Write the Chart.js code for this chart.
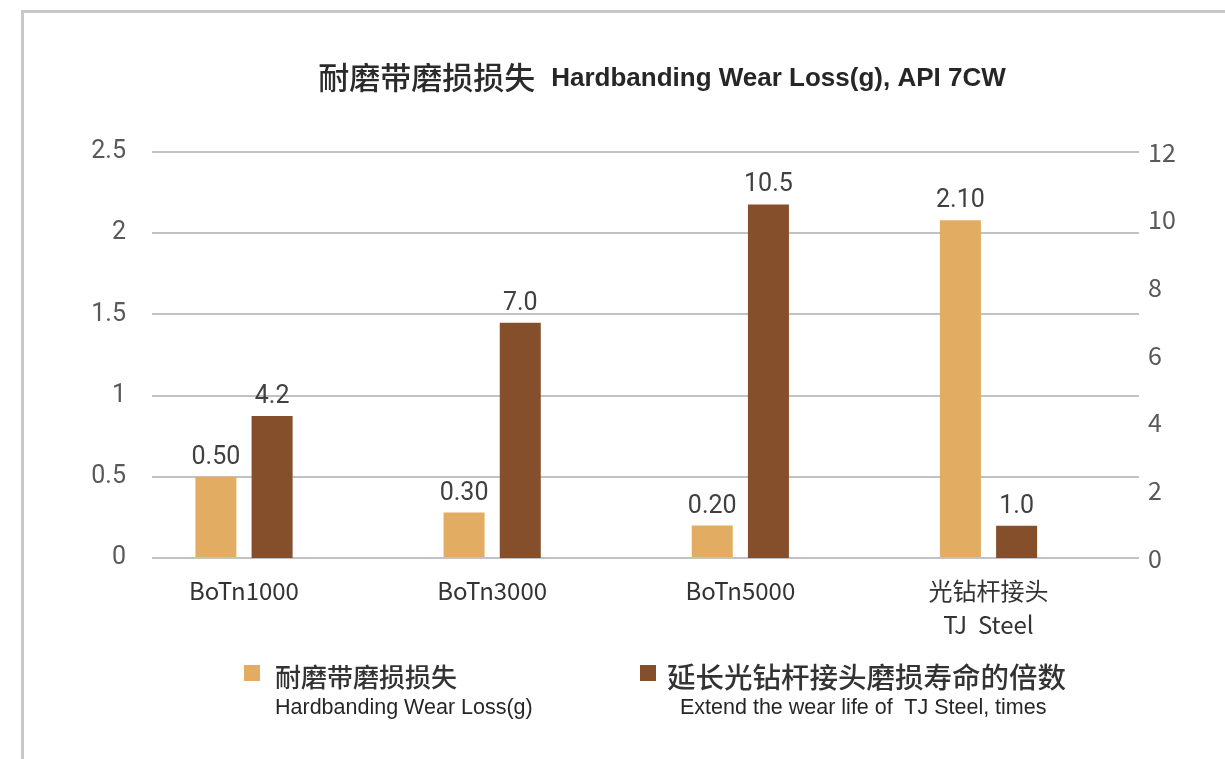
<!DOCTYPE html>
<html>
<head>
<meta charset="utf-8">
<script src="https://cdn.jsdelivr.net/npm/chart.js@4.4.1/dist/chart.umd.min.js"></script>
<style>
body { margin:0; background:#fff; overflow:hidden; }
#wrap { position:relative; width:1225px; height:759px; overflow:hidden; }
#frame { position:absolute; left:21px; top:10px; width:1300px; height:800px; border-left:3px solid #c8c8ca; border-top:3px solid #c8c8ca; }
#c { position:absolute; left:0; top:0; }
.sw { position:absolute; width:16px; height:16px; }
.zh { position:absolute; white-space:pre; font-family:"Noto Sans CJK SC", sans-serif; font-weight:500; color:#333; }
.en { position:absolute; white-space:pre; font-family:"Liberation Sans", Arial, sans-serif; font-size:21.5px; line-height:26px; color:#262626; }
</style>
</head>
<body>
<div id="wrap">
  <div id="frame"></div>
  <canvas id="c" width="1225" height="759"></canvas>
  <div class="sw" id="sw1" style="left:244px;top:665px"></div>
  <div class="zh" id="zh1" style="left:275px;top:661px;font-size:26px;line-height:30px"></div>
  <div class="en" id="en1" style="left:275px;top:694px"></div>
  <div class="sw" id="sw2" style="left:640px;top:665px"></div>
  <div class="zh" id="zh2" style="left:667px;top:660px;font-size:28.5px;line-height:32px"></div>
  <div class="en" id="en2" style="left:680px;top:694px"></div>
</div>
<script>
var categories = ["BoTn1000", "BoTn3000", "BoTn5000", ["光钻杆接头", "TJ  Steel"]];
var wearLoss = [0.50, 0.28, 0.20, 2.08];
var wearLossLabels = ["0.50", "0.30", "0.20", "2.10"];
var lifeTimes = [4.2, 6.95, 10.45, 0.95];
var lifeTimesLabels = ["4.2", "7.0", "10.5", "1.0"];
var seriesNamesZh = ["耐磨带磨损损失", "延长光钻杆接头磨损寿命的倍数"];
var seriesNamesEn = ["Hardbanding Wear Loss(g)", "Extend the wear life of  TJ Steel, times"];
var titleZh = "耐磨带磨损损失";
var titleEn = "Hardbanding Wear Loss(g), API 7CW";

var colorLight = "#e2ad62";
var colorDark = "#854f2c";

// legend (html, two lines each)
document.getElementById("sw1").style.background = colorLight;
document.getElementById("sw2").style.background = colorDark;
document.getElementById("zh1").textContent = seriesNamesZh[0];
document.getElementById("zh2").textContent = seriesNamesZh[1];
document.getElementById("en1").textContent = seriesNamesEn[0];
document.getElementById("en2").textContent = seriesNamesEn[1];

var barLabels = [wearLossLabels, lifeTimesLabels];

var valueLabels = {
	id: "valueLabels",
	afterDatasetsDraw: function(chart) {
		var ctx = chart.ctx;
		ctx.save();
		ctx.font = '25px Roboto, sans-serif';
		ctx.fillStyle = "#404040";
		ctx.textAlign = "center";
		ctx.textBaseline = "alphabetic";
		chart.data.datasets.forEach(function(ds, i) {
			var meta = chart.getDatasetMeta(i);
			meta.data.forEach(function(bar, j) {
				ctx.fillText(barLabels[i][j], bar.x, bar.y - 13);
			});
		});
		ctx.restore();
	}
};

var mixedTitle = {
	id: "mixedTitle",
	afterDraw: function(chart) {
		var ctx = chart.ctx;
		ctx.save();
		var zhFont = '500 31px "Noto Sans CJK SC", sans-serif';
		var enFont = 'bold 26px "Liberation Sans", Arial, sans-serif';
		ctx.font = zhFont;
		var wZh = ctx.measureText(titleZh).width;
		ctx.font = enFont;
		var wEn = ctx.measureText(titleEn).width;
		var gap = 16;
		var x = 662 - (wZh + gap + wEn) / 2;
		ctx.textAlign = "left";
		ctx.font = zhFont;
		ctx.fillStyle = "#2b2b2b";
		ctx.textBaseline = "middle";
		ctx.fillText(titleZh, x, 77);
		ctx.font = enFont;
		ctx.fillStyle = "#262626";
		ctx.textBaseline = "alphabetic";
		ctx.fillText(titleEn, x + wZh + gap, 86);
		ctx.restore();
	}
};

function pts(vals) {
	return vals.map(function(v, i) { return { x: i, y: v }; });
}

var ctx = document.getElementById("c");

var chart = new Chart(ctx, {
	type: "bar",
	data: {
		datasets: [
			{
				label: seriesNamesZh[0],
				data: pts(wearLoss),
				backgroundColor: colorLight,
				yAxisID: "y",
				categoryPercentage: 0.4528,
				barPercentage: 0.73
			},
			{
				label: seriesNamesZh[1],
				data: pts(lifeTimes),
				backgroundColor: colorDark,
				yAxisID: "y2",
				categoryPercentage: 0.4528,
				barPercentage: 0.73
			}
		]
	},
	options: {
		responsive: false,
		animation: false,
		layout: { padding: { top: 152, left: 0, right: 0, bottom: 0 } },
		plugins: {
			legend: { display: false },
			title: { display: false },
			tooltip: { enabled: false }
		},
		scales: {
			x: {
				type: "linear",
				min: -0.3707,
				max: 3.6064,
				offset: false,
				grid: { display: false, drawTicks: false },
				border: { display: false },
				afterBuildTicks: function(s) {
					s.ticks = categories.map(function(c, i) { return { value: i }; });
				},
				afterFit: function(s) { s.height = 201; },
				ticks: {
					autoSkip: false,
					maxRotation: 0,
					padding: 16,
					color: "#333",
					font: { family: '"Noto Sans CJK SC", sans-serif', size: 24, lineHeight: 1.4 },
					callback: function(v) { return categories[v]; }
				}
			},
			y: {
				position: "left",
				min: 0,
				max: 2.5,
				grid: { color: "#c2c2c6", lineWidth: 2, drawTicks: false },
				border: { display: false },
				afterFit: function(s) { s.width = 152; },
				ticks: {
					stepSize: 0.5,
					padding: 26,
					color: "#595959",
					font: { family: "Roboto, sans-serif", size: 25 },
					callback: function(v) { return String(v); }
				}
			},
			y2: {
				position: "right",
				min: 0,
				max: 12,
				grid: { display: false, drawTicks: false },
				border: { display: false },
				afterFit: function(s) { s.width = 86; },
				ticks: {
					stepSize: 2,
					padding: 9,
					color: "#595959",
					font: { family: '"Noto Sans CJK SC", sans-serif', size: 25 },
					callback: function(v) { return String(v); }
				}
			}
		}
	},
	plugins: [valueLabels, mixedTitle]
});
</script>
</body>
</html>
